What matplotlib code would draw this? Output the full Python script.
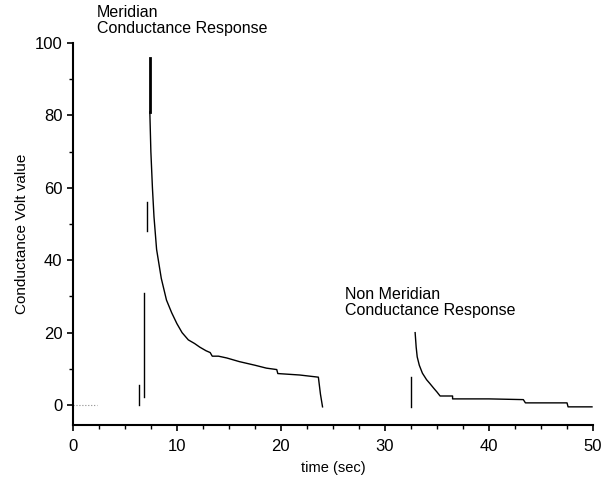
import matplotlib
matplotlib.use('Agg')
import matplotlib.pyplot as plt
from matplotlib.ticker import MultipleLocator

plt.rcParams['font.family'] = ['Liberation Sans', 'DejaVu Sans']

# Baseline before stimulus
base_t = [0.0, 2.3]
base_v = [0.0, 0.0]

# Onset artefacts just before the meridian response
onset_a_t = [6.35, 6.35]
onset_a_v = [0.0, 5.5]
onset_b_t = [6.83, 6.83]
onset_b_v = [2.2, 31.0]
onset_c_t = [7.1, 7.1]
onset_c_v = [48.0, 56.0]

# Meridian conductance response (peak and decay)
mer_peak_t = [7.4, 7.4]
mer_peak_v = [96.0, 81.0]
mer_t = [7.4, 7.5, 7.65, 7.8, 8.05, 8.5, 9.0, 9.5, 10.0, 10.5, 11.1, 11.7,
         12.2, 12.8, 13.2, 13.4, 14.0, 14.8, 16.0, 17.5, 18.6, 19.6, 19.7,
         21.8, 23.6, 23.8, 24.0]
mer_v = [81.0, 70.0, 60.0, 52.0, 43.0, 35.0, 29.0, 25.5, 22.5, 20.0, 18.0,
         17.0, 16.0, 15.0, 14.5, 13.5, 13.5, 13.0, 12.0, 11.0, 10.2, 9.8, 8.7,
         8.3, 7.7, 3.0, -0.5]

# Non meridian conductance response
nm_jump_t = [32.5, 32.5]
nm_jump_v = [-0.5, 7.7]
nm_t = [32.9, 33.0, 33.1, 33.3, 33.6, 34.0, 34.3, 34.7, 35.0, 35.3, 36.5,
        36.5, 40.0, 43.3, 43.5, 47.5, 47.6, 49.9]
nm_v = [20.0, 16.0, 13.3, 11.0, 8.8, 7.0, 6.0, 4.6, 3.6, 2.5, 2.5, 1.7, 1.7,
        1.5, 0.6, 0.6, -0.5, -0.5]

fig = plt.figure(figsize=(6.07, 4.84), dpi=100)
ax = fig.add_axes([0.120, 0.122, 0.857, 0.789])

ax.plot(base_t, base_v, color='0.55', lw=0.8, ls=':')
for t, v in [(onset_a_t, onset_a_v), (onset_b_t, onset_b_v), (onset_c_t, onset_c_v)]:
    ax.plot(t, v, color='black', lw=1.0)
ax.plot(mer_peak_t, mer_peak_v, color='black', lw=2.0)
ax.plot(mer_t, mer_v, color='black', lw=1.0)
ax.plot(nm_jump_t, nm_jump_v, color='black', lw=1.0)
ax.plot(nm_t, nm_v, color='black', lw=1.0)

ax.set_xlim(0, 50)
ax.set_ylim(-5.5, 100)
ax.xaxis.set_major_locator(MultipleLocator(10))
ax.xaxis.set_minor_locator(MultipleLocator(2.5))
ax.yaxis.set_major_locator(MultipleLocator(20))
ax.yaxis.set_minor_locator(MultipleLocator(10))
ax.tick_params(which='major', direction='out', length=4, width=1.2, labelsize=12)
ax.tick_params(axis='x', which='major', pad=6)
ax.tick_params(which='minor', direction='out', length=3, width=1.0)

for side in ['top', 'right']:
    ax.spines[side].set_visible(False)
ax.spines['left'].set_linewidth(1.5)
ax.spines['bottom'].set_linewidth(1.5)

ax.set_xlabel('time (sec)', fontsize=10.5, labelpad=5)
ax.set_ylabel('Conductance Volt value', fontsize=11, labelpad=4)

ax.text(2.3, 102, 'Meridian\nConductance Response', fontsize=11.5,
        va='bottom', ha='left', linespacing=1.1)
ax.text(26.2, 24, 'Non Meridian\nConductance Response', fontsize=11.5,
        va='bottom', ha='left', linespacing=1.1)

fig.savefig('out.png', dpi=100)
